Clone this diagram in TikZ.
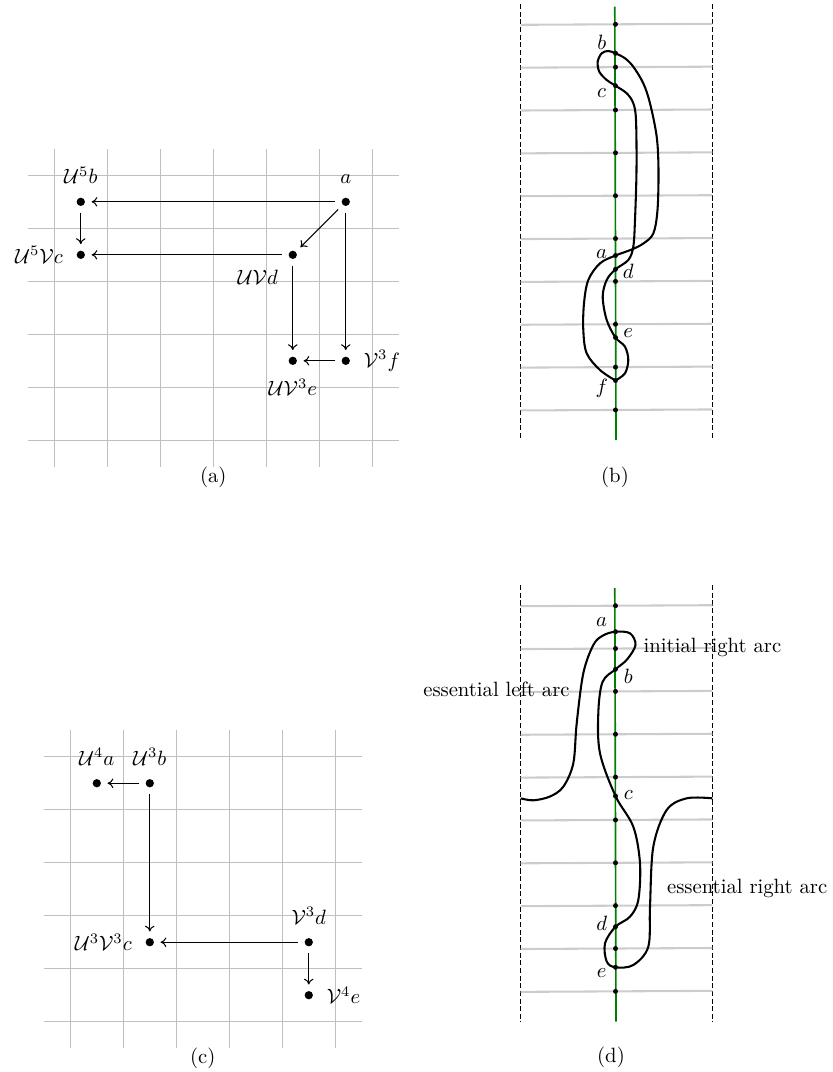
\documentclass[tikz,border=0pt]{standalone}
\usepackage{amssymb,tikz}
\usetikzlibrary{arrows.meta}

\tikzset{
  gridline/.style={black!25, line width=0.5pt},
  dot/.style={circle, fill, inner sep=0pt, minimum size=4pt, outer sep=3.2pt},
  move/.style={-{To[length=2.8pt,width=4.6pt]}, line width=0.5pt},
  rung/.style={black!20, line width=1pt},
  wall/.style={line width=0.6pt, dash pattern=on 2.5pt off 1.2pt},
  track/.style={green!50!black, line width=0.8pt},
  crossdot/.style={circle, fill, inner sep=0pt, minimum size=2.4pt},
  loopline/.style={line width=1pt, line join=round},
}

\begin{document}
\begin{tikzpicture}[x=0.016981cm, y=-0.016981cm]
\useasboundingbox (0,0) rectangle (833,1072);

% (a) moves on the grid
\begin{scope}[shift={(54.3,440.3)}, x=0.9cm, y=0.9cm]
\draw[gridline, step=0.9cm] (-0.5,-0.5) grid (6.5,5.5);
\node[dot, label=above:$\mathcal{U}^5b$] (ab) at (0.5,4.5) {};
\node[dot, label=above:$a$] (aa) at (5.5,4.5) {};
\node[dot, label=left:$\mathcal{U}^5\mathcal{V}c$] (ac) at (0.5,3.5) {};
\node[dot, label=below left:$\mathcal{U}\mathcal{V}d$] (ad) at (4.5,3.5) {};
\node[dot, label=below:$\mathcal{U}\mathcal{V}^3e$] (ae) at (4.5,1.5) {};
\node[dot, label=right:$\mathcal{V}^3f$] (af) at (5.5,1.5) {};
\draw[move] (aa) -- (ab);
\draw[move] (aa) -- (ad);
\draw[move] (aa) -- (af);
\draw[move] (ab) -- (ac);
\draw[move] (ad) -- (ac);
\draw[move] (ad) -- (ae);
\draw[move] (af) -- (ae);
\end{scope}
\node (capa) at (213.3,477) {(a)};

% (b) the curve in the strip
\draw[wall] (520.7,4) -- (520.7,440);
\draw[wall] (712.3,4) -- (712.3,440);
\foreach \k in {0,...,9} \draw[rung] (520.7,24.8+42.85*\k) -- (712.3,23.8+42.85*\k);
\draw[track] (614.8,6.7) -- (616,440);
\draw[loopline] plot[smooth, tension=0.55] coordinates {
  (615.5,380.5) (625,373.3) (628.3,360) (625,346.7) (615.5,337.5) (606.7,320)
  (602.7,296.7) (606.7,280) (615.5,269.3) (628.3,260) (633.3,246.7) (635,220)
  (636.5,170) (636,120) (633.3,103.3) (626.7,93.3) (615.5,85.7) (606.7,80)
  (599.3,71.7) (597.7,61.7) (601.7,53.3) (608.3,51) (615.5,53.3) (625,58.3)
  (633.3,66.7) (643.3,83.3) (650,103.3) (656.7,136.7) (658.5,170) (657.5,210)
  (653.3,233.5) (643.3,243.5) (631.7,249.5) (615.5,255.5) (600,263.3) (588.3,280)
  (584,303.3) (583.3,330) (586.7,353.3) (600,370) (615.5,380.5)};
\foreach \k in {0,...,9} \node[crossdot] (bt\k) at (615.5,24.3+42.85*\k) {};
\foreach \p/\y in {b/53.3, c/85.7, a/255.5, d/269.3, e/337.5, f/380.5}
  \node[crossdot] (b\p) at (615.5,\y) {};
\foreach \p/\x/\y in {b/601.7/42.3, c/601.7/93.3, a/601.7/254, d/628.3/271.7, e/628.3/333.3, f/601.7/388.3}
  \node (lb\p) at (\x,\y) {$\p$};
\node (capb) at (615,477) {(b)};

% (c) moves on the grid
\begin{scope}[shift={(70.3,1021.7)}, x=0.9cm, y=0.9cm]
\draw[gridline, step=0.9cm] (-0.5,-0.5) grid (5.5,5.5);
\node[dot, label=above:$\mathcal{U}^4a$] (ca) at (0.5,4.5) {};
\node[dot, label=above:$\mathcal{U}^3b$] (cb) at (1.5,4.5) {};
\node[dot, label=left:$\mathcal{U}^3\mathcal{V}^3c$] (cc) at (1.5,1.5) {};
\node[dot, label=above:$\mathcal{V}^3d$] (cd) at (4.5,1.5) {};
\node[dot, label=right:$\mathcal{V}^4e$] (ce) at (4.5,0.5) {};
\draw[move] (cb) -- (ca);
\draw[move] (cb) -- (cc);
\draw[move] (cd) -- (cc);
\draw[move] (cd) -- (ce);
\end{scope}
\node (capc) at (202.7,1058) {(c)};

% (d) arcs in the strip
\draw[wall] (520.7,585) -- (520.7,1021.7);
\draw[wall] (712.3,585) -- (712.3,1021.7);
\foreach \k in {0,...,9} \draw[rung] (520.7,606.2+42.85*\k) -- (712.3,605.2+42.85*\k);
\draw[track] (614.8,588.2) -- (616,1021.7);
\draw[loopline] plot[smooth, tension=0.55] coordinates {
  (520.7,798.3) (533.3,800.3) (550,796.5) (563.3,786.7) (573.3,763.3) (576.7,723.3)
  (583.3,673.3) (593.3,645) (603,635.5) (615.5,631.7) (630,633.3) (635.5,645)
  (627,659.5) (615.5,669.3) (602.5,682) (598.3,713.3) (600,753.3) (615.5,796)
  (633.3,826.7) (640,863.3) (638.3,900) (630,916.7) (615.5,926.7) (605,943.3)
  (606.7,961.5) (615.5,967.3) (633.3,965) (648.3,946.7) (650,906.7) (653.3,846.7)
  (666.7,810) (686.7,798.3) (712.3,798.3)};
\foreach \k in {0,...,9} \node[crossdot] (dt\k) at (615.5,605.7+42.85*\k) {};
\foreach \p/\y in {a/631.7, b/669.3, c/796, d/926.7, e/967.3}
  \node[crossdot] (d\p) at (615.5,\y) {};
\foreach \p/\x/\y in {a/601.7/621.7, b/628.3/676, c/628.3/795, d/601.7/923.3, e/601.7/973.3}
  \node (ld\p) at (\x,\y) {$\p$};
\node[anchor=east, inner sep=0pt] (essl) at (570,689.3) {essential left arc};
\node[anchor=west, inner sep=0pt] (initr) at (643.3,647.7) {initial right arc};
\node[anchor=west, inner sep=0pt] (essr) at (666.7,888.3) {essential right arc};
\node (capd) at (611,1057.5) {(d)};
\end{tikzpicture}
\end{document}
